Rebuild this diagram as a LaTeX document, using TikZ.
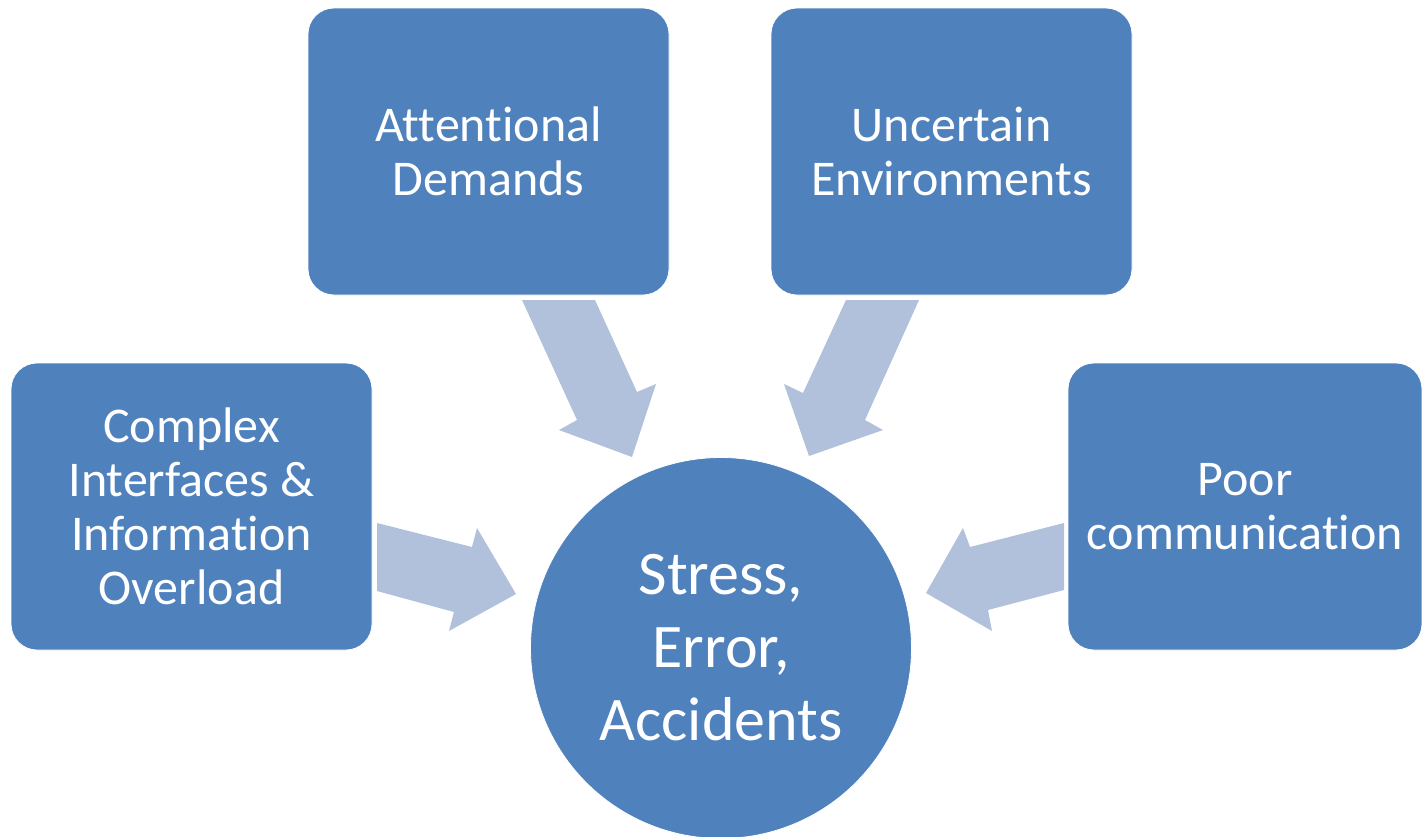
\documentclass[tikz,border=0pt]{standalone}
\usepackage{fontspec}
\setmainfont{Carlito}[Ligatures=NoCommon]
\definecolor{boxblue}{HTML}{4F81BD}
\definecolor{arrowblue}{HTML}{B2C1DB}
\begin{document}
\begin{tikzpicture}[x=1pt,y=-1pt,
  boxnode/.style={draw=white,line width=0.8pt,fill=boxblue,rounded corners=26pt,
    text=white,align=center,inner sep=0pt,
    font=\fontsize{50}{54}\selectfont},
  hubnode/.style={circle,draw=white,line width=0.8pt,fill=boxblue,minimum size=381pt,
    text=white,align=center,inner sep=0pt,
    font=\fontsize{62}{73}\selectfont},
  blockarrow/.style={fill=arrowblue,draw=none}]
\useasboundingbox (0,0) rectangle (1422,836);
\fill[white] (0,0) rectangle (1422,836);

% block arrows
\fill[blockarrow] (522,300) -- (595,300) -- (637,392) -- (656,384) -- (632,457) -- (559,430) -- (577,420) -- cycle;
\fill[blockarrow] (846,300) -- (919,300) -- (865,420) -- (883,430) -- (809,456) -- (784,384) -- (803,393) -- cycle;
\fill[blockarrow] (377,523) -- (472,547) -- (477,528) -- (516,594) -- (449,631) -- (454,612) -- (377,591) -- cycle;
\fill[blockarrow] (1064,523) -- (970,547) -- (963,528) -- (926,593) -- (992,631) -- (988,610) -- (1064,590) -- cycle;

% boxes
\node[boxnode,minimum width=361pt,minimum height=287pt] (att) at (488.5,151.5) {Attentional\\Demands};
\node[boxnode,minimum width=361pt,minimum height=287pt] (unc) at (951.5,151.5) {Uncertain\\Environments};
\node[boxnode,minimum width=361pt,minimum height=287pt] (cpx) at (191.5,506.5) {Complex\\Interfaces \&\\Information\\Overload};
\node[boxnode,minimum width=354pt,minimum height=287pt] (poor) at (1245,506.5) {Poor\\communication};

% hub
\node[hubnode] (hub) at (721,648) {Stress,\\Error,\\Accidents};
\end{tikzpicture}
\end{document}
